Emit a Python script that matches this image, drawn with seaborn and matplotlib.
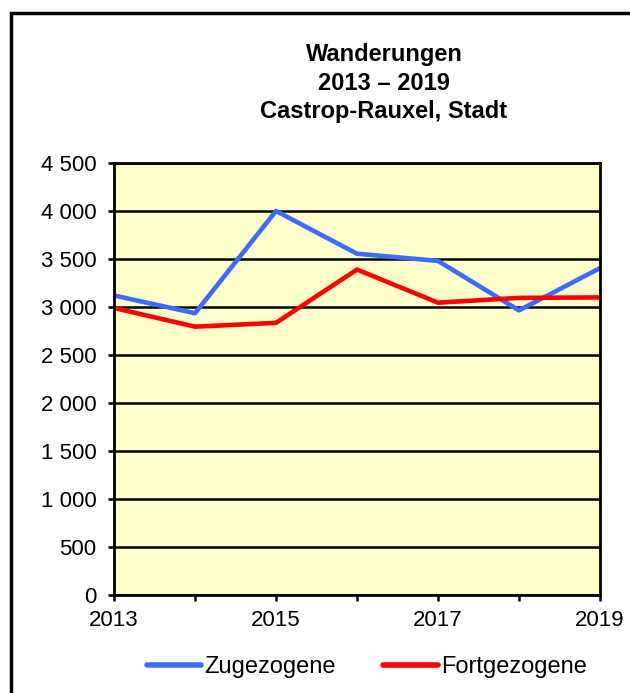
import numpy as np
import pandas as pd
import matplotlib.pyplot as plt
import matplotlib.patches as mpatches
from matplotlib.ticker import FuncFormatter
import seaborn as sns

jahre = [2013, 2014, 2015, 2016, 2017, 2018, 2019]
zugezogene = [3120, 2935, 4000, 3555, 3480, 2965, 3405]
fortgezogene = [2990, 2795, 2835, 3390, 3045, 3095, 3100]

df = pd.DataFrame({
    'Jahr': jahre * 2,
    'Anzahl': zugezogene + fortgezogene,
    'Art': ['Zugezogene'] * len(jahre) + ['Fortgezogene'] * len(jahre),
})

sns.set_style('white')
plt.rcParams['font.family'] = ['Liberation Sans', 'DejaVu Sans']
plt.rcParams['text.color'] = 'black'
plt.rcParams['xtick.color'] = 'black'
plt.rcParams['ytick.color'] = 'black'

fig = plt.figure(figsize=(6.3, 6.93), dpi=100)
ax = fig.add_axes([114 / 630, 1 - 595 / 693, 486 / 630, 432 / 693])

sns.lineplot(
    data=df, x='Jahr', y='Anzahl', hue='Art',
    palette={'Zugezogene': '#3c6cff', 'Fortgezogene': '#ff0000'},
    linewidth=3.3, ax=ax, legend=False
)

ax.set_facecolor('#ffffcc')
ax.set_xlim(2013, 2019)
ax.set_ylim(0, 4500)
ax.set_xticks(jahre)
ax.set_xticklabels([str(j) if j % 2 == 1 else '' for j in jahre])
ax.set_yticks(np.arange(0, 4501, 500))
ax.yaxis.set_major_formatter(FuncFormatter(lambda v, p: f'{int(v):,}'.replace(',', ' ')))
ax.grid(axis='y', color='black', linewidth=1.8)
ax.set_axisbelow(True)
for s in ax.spines.values():
    s.set_color('black')
    s.set_linewidth(2)
ax.tick_params(axis='both', direction='out', length=4.5, width=1.8, color='black',
               labelsize=16, left=True, bottom=True)
ax.tick_params(axis='y', pad=8)
ax.tick_params(axis='x', pad=6)
ax.set_xlabel('')
ax.set_ylabel('')

fig.text(384 / 630, 1 - 83 / 693, 'Wanderungen\n2013 – 2019\nCastrop-Rauxel, Stadt',
         ha='center', va='center', fontsize=17, fontweight='bold', linespacing=1.32)

handles = [
    plt.Line2D([], [], color='#3c6cff', linewidth=4, solid_capstyle='round'),
    plt.Line2D([], [], color='#ff0000', linewidth=4, solid_capstyle='round'),
]
fig.legend(handles, ['Zugezogene', 'Fortgezogene'], loc='center',
           bbox_to_anchor=(367 / 630, 1 - 667 / 693), ncol=2, frameon=False,
           fontsize=17, handlelength=2.3, handletextpad=0.15, columnspacing=2.0)

rahmen = mpatches.Rectangle((11 / 630, -0.1), 1.5, 1.1 - 13 / 693, transform=fig.transFigure,
                            fill=False, edgecolor='black', linewidth=2.5)
fig.add_artist(rahmen)

plt.savefig('out.png', dpi=100)
